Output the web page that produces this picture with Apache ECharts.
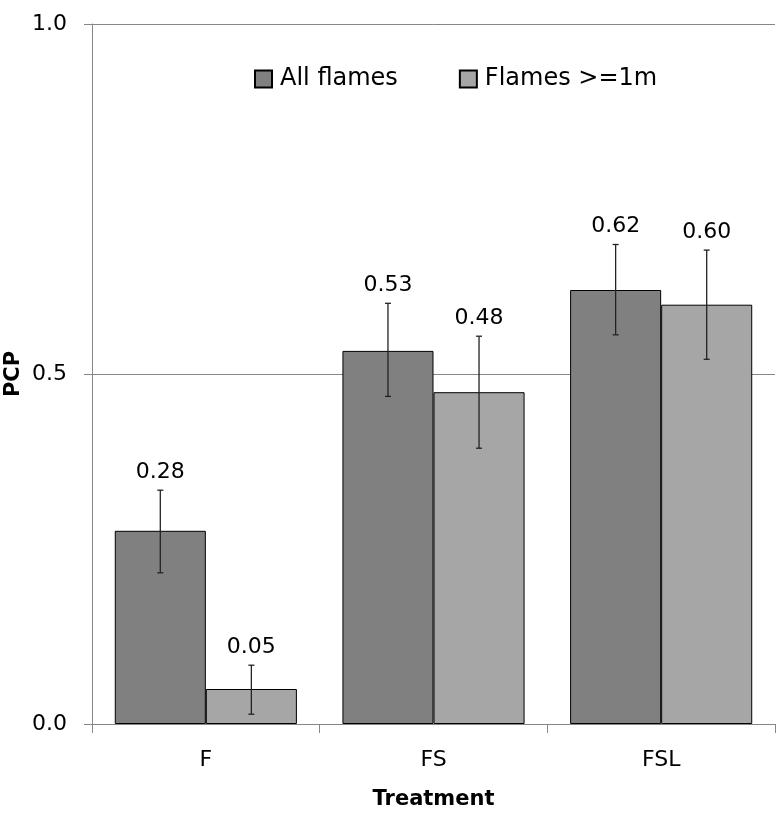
<!DOCTYPE html>
<html>
<head>
<meta charset="utf-8">
<script src="https://cdn.jsdelivr.net/npm/echarts@6/dist/echarts.min.js"></script>
<style>html,body{margin:0;padding:0;background:#fff;}#c{width:780px;height:814px;}</style>
</head>
<body>
<div id="c"></div>
<script>
var categories = ['F', 'FS', 'FSL'];
var seriesNames = ['All flames', 'Flames >=1m'];
var allFlames = [0.276, 0.533, 0.620];
var allFlamesLow = [0.216, 0.468, 0.556];
var allFlamesHigh = [0.334, 0.601, 0.685];
var allFlamesLabels = ['0.28', '0.53', '0.62'];
var flames1m = [0.050, 0.474, 0.599];
var flames1mLow = [0.014, 0.394, 0.521];
var flames1mHigh = [0.084, 0.554, 0.677];
var flames1mLabels = ['0.05', '0.48', '0.60'];
var yTicks = [0, 0.5, 1.0];

var FONT = '"DejaVu Sans", "Open Sans", sans-serif';
var chart = echarts.init(document.getElementById('c'), null, {renderer: 'canvas'});

function errData(low, high, labels) {
  return categories.map(function (c, i) { return [i, low[i], high[i], labels[i]]; });
}
function makeErr(name, low, high, labels, side) {
  return {
    type: 'custom',
    name: name + ' err',
    z: 5,
    data: errData(low, high, labels),
    renderItem: function (params, api) {
      var idx = api.value(0);
      var lo = api.coord([idx, api.value(1)]);
      var hi = api.coord([idx, api.value(2)]);
      var band = api.size([1, 0])[0];
      var x = lo[0] + side * band * 0.2;
      var cap = 3;
      var st = {stroke: '#222', lineWidth: 1.3};
      return {
        type: 'group',
        children: [
          {type: 'line', shape: {x1: x, y1: lo[1], x2: x, y2: hi[1]}, style: st},
          {type: 'line', shape: {x1: x - cap, y1: lo[1], x2: x + cap, y2: lo[1]}, style: st},
          {type: 'line', shape: {x1: x - cap, y1: hi[1], x2: x + cap, y2: hi[1]}, style: st},
          {type: 'text', x: x, y: hi[1] - 18, style: {text: labels[params.dataIndex], fontSize: 22, fontFamily: FONT, fill: '#000', align: 'center', verticalAlign: 'middle'}}
        ]
      };
    }
  };
}

chart.setOption({
  animation: false,
  backgroundColor: '#fff',
  grid: {left: 92, right: 5, top: 24, bottom: 90, containLabel: false, outerBoundsMode: 'none'},
  legend: {
    data: seriesNames,
    left: 249, top: 62,
    itemWidth: 17, itemHeight: 17, itemGap: 61,
    textStyle: {fontSize: 24, fontFamily: FONT, color: '#000', padding: [0, 0, 0, 3]},
    icon: 'rect'
  },
  xAxis: {
    type: 'category',
    data: categories,
    name: 'Treatment',
    nameLocation: 'middle',
    nameGap: 65,
    nameMoveOverlap: false,
    nameTextStyle: {fontSize: 21, fontWeight: 'bold', fontFamily: FONT, color: '#000'},
    axisLine: {lineStyle: {color: '#868686', width: 1}},
    axisTick: {show: true, length: 9, lineStyle: {color: '#868686'}},
    axisLabel: {fontSize: 22, fontFamily: FONT, color: '#000', margin: 25}
  },
  yAxis: {
    type: 'value',
    min: 0, max: 1, interval: 0.5,
    name: 'PCP',
    nameLocation: 'middle',
    nameGap: 68,
    nameMoveOverlap: false,
    nameTextStyle: {fontSize: 21, fontWeight: 'bold', fontFamily: FONT, color: '#000'},
    axisLine: {show: true, lineStyle: {color: '#868686', width: 1}},
    axisTick: {show: true, length: 8, lineStyle: {color: '#868686'}},
    axisLabel: {fontSize: 22, fontFamily: FONT, color: '#000', margin: 25,
      formatter: function (v) { return v.toFixed(1); }},
    splitLine: {show: true, lineStyle: {color: '#868686', width: 1}}
  },
  series: [
    {
      name: seriesNames[0], type: 'bar', data: allFlames,
      barGap: '0%', barCategoryGap: '20%',
      itemStyle: {color: '#808080', borderColor: '#000', borderWidth: 1}
    },
    {
      name: seriesNames[1], type: 'bar', data: flames1m,
      barGap: '0%', barCategoryGap: '20%',
      itemStyle: {color: '#a6a6a6', borderColor: '#000', borderWidth: 1}
    },
    makeErr(seriesNames[0], allFlamesLow, allFlamesHigh, allFlamesLabels, -1),
    makeErr(seriesNames[1], flames1mLow, flames1mHigh, flames1mLabels, 1)
  ]
});
</script>
</body>
</html>
